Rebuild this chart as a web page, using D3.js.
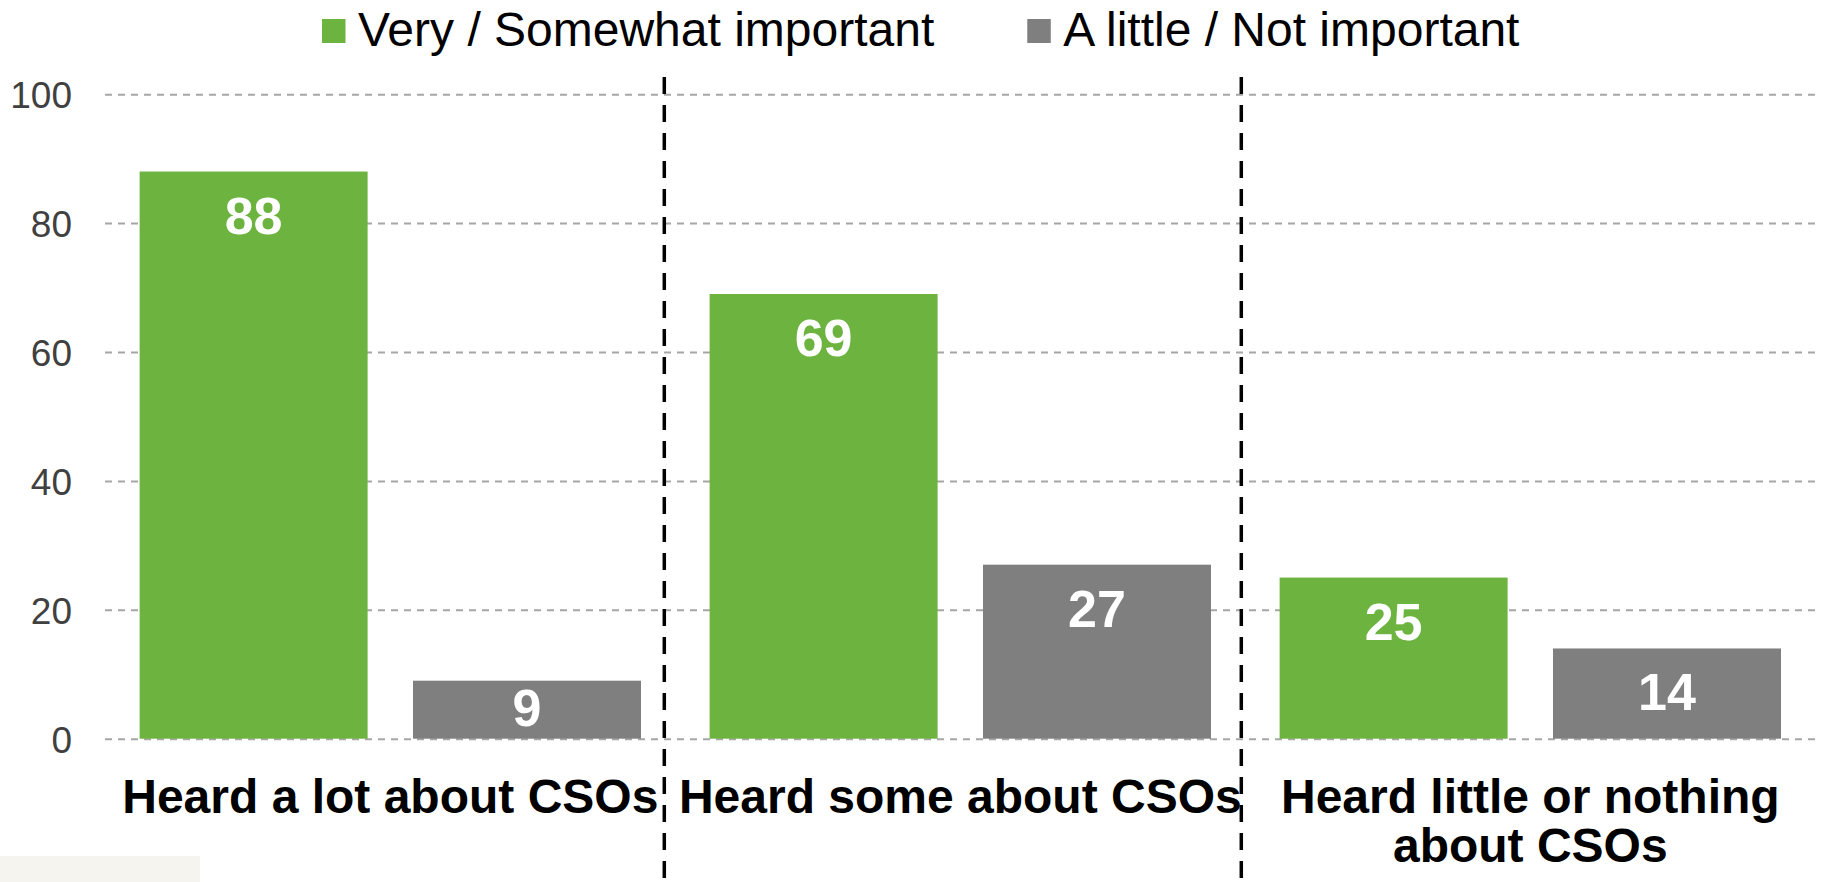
<!DOCTYPE html>
<html>
<head>
<meta charset="utf-8">
<script src="https://cdn.jsdelivr.net/npm/d3@7"></script>
<style>
  html, body { margin: 0; padding: 0; background: #ffffff; }
  svg { display: block; font-family: "Liberation Sans", Arial, sans-serif; }
</style>
</head>
<body>
<script>
// ---- data ----
const categories = ["Heard a lot about CSOs", "Heard some about CSOs", "Heard little or nothing about CSOs"];
const seriesNames = ["Very / Somewhat important", "A little / Not important"];
const importantValues = [88, 69, 25];
const notImportantValues = [9, 27, 14];
const yTicks = [0, 20, 40, 60, 80, 100];
const seriesColors = ["#6db33f", "#7f7f7f"];

const seriesValues = [importantValues, notImportantValues];

// ---- layout ----
const W = 1824, H = 882;
const svg = d3.select("body").append("svg").attr("width", W).attr("height", H);

// faint image fragment bottom-left
svg.append("rect").attr("x", 0).attr("y", 856).attr("width", 200).attr("height", 26).attr("fill", "#f6f4ef");

const x0 = d3.scaleBand().domain(categories).range([105.3, 1815.3]).paddingInner(0).paddingOuter(0);
const x1 = d3.scaleBand().domain(seriesNames).range([0, x0.bandwidth()]).paddingInner(0.166).paddingOuter(0.1255);
const y = d3.scaleLinear().domain([0, 100]).range([738.7, 94.2]);
const color = d3.scaleOrdinal().domain(seriesNames).range(seriesColors);

// gridlines + y tick labels
const yAxis = d3.axisLeft(y).tickValues(yTicks).tickSize(-(1817 - 105)).tickPadding(33).tickFormat(d3.format("d"));
const gAxis = svg.append("g").attr("transform", "translate(105,0)").call(yAxis);
gAxis.select(".domain").remove();
gAxis.selectAll(".tick line")
  .attr("stroke", "#a6a6a6").attr("stroke-width", 2).attr("stroke-dasharray", "7,6");
gAxis.selectAll(".tick text")
  .attr("fill", "#404040").attr("font-size", 37).attr("font-family", "'Liberation Sans', Arial, sans-serif")
  .attr("dy", "0.36em");

// bars
const rows = [];
categories.forEach((c, i) => {
  seriesNames.forEach((s, j) => rows.push({ cat: c, series: s, value: seriesValues[j][i] }));
});

const gBars = svg.append("g");
gBars.selectAll("rect").data(rows).join("rect")
  .attr("x", d => x0(d.cat) + x1(d.series))
  .attr("y", d => y(d.value))
  .attr("width", x1.bandwidth())
  .attr("height", d => y(0) - y(d.value))
  .attr("fill", d => color(d.series));

// value labels
gBars.selectAll("text").data(rows).join("text")
  .attr("x", d => x0(d.cat) + x1(d.series) + x1.bandwidth() / 2)
  .attr("y", d => Math.min(y(d.value) + 62, y(0) - 13))
  .attr("text-anchor", "middle")
  .attr("fill", "#ffffff")
  .attr("font-weight", "bold")
  .attr("font-size", 52)
  .text(d => d.value);

// category labels (wrapped)
const wrapWidth = 610;
const gCat = svg.append("g");
categories.forEach(c => {
  const cx = x0(c) + x0.bandwidth() / 2;
  const t = gCat.append("text")
    .attr("x", cx)
    .attr("y", 813)
    .attr("text-anchor", "middle")
    .attr("font-weight", "bold")
    .attr("font-size", 48)
    .attr("fill", "#000000");
  const words = c.split(" ");
  let line = [];
  let tspan = t.append("tspan").attr("x", cx).attr("dy", 0);
  words.forEach(w => {
    line.push(w);
    tspan.text(line.join(" "));
    if (tspan.node().getComputedTextLength() > wrapWidth && line.length > 1) {
      line.pop();
      tspan.text(line.join(" "));
      line = [w];
      tspan = t.append("tspan").attr("x", cx).attr("dy", 48.7).text(w);
    }
  });
});

// vertical dashed dividers between groups
const dividerOffsets = [11, 4];
categories.slice(1).forEach((c, i) => {
  const xx = x0(c) - dividerOffsets[i];
  svg.append("line")
    .attr("x1", xx).attr("x2", xx)
    .attr("y1", 77).attr("y2", H)
    .attr("stroke", "#000000").attr("stroke-width", 3.5)
    .attr("stroke-dasharray", "17,11");
});

// legend
const gLeg = svg.append("g");
let lx = 322;
seriesNames.forEach((s, i) => {
  gLeg.append("rect").attr("x", lx).attr("y", 19).attr("width", 23.5).attr("height", 24).attr("fill", color(s));
  const t = gLeg.append("text").attr("x", lx + 36).attr("y", 45.7)
    .attr("font-size", 48).attr("fill", "#000000").text(s);
  lx = lx + 36 + t.node().getComputedTextLength() + 93;
});
</script>
</body>
</html>
